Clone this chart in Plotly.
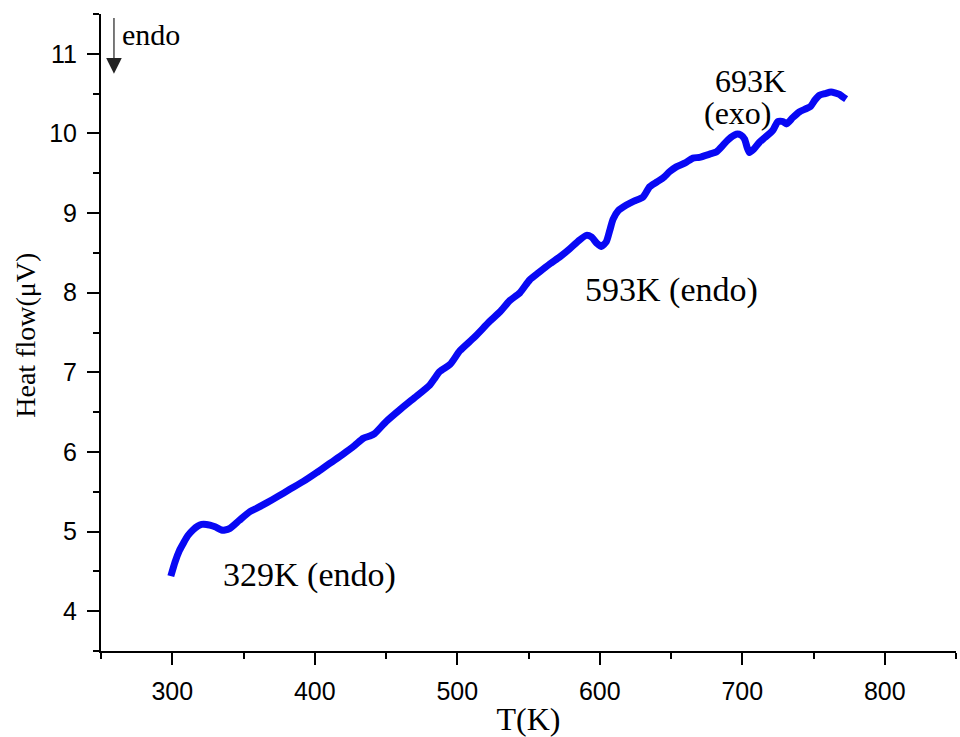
import plotly.graph_objects as go

# Data (T in K, heat flow in µV)
temp_k = [299, 302, 305, 308, 311, 314.5, 318, 320.6, 324, 326.4, 330, 334.6, 337, 340.5,
          347, 354.5, 360, 366.2, 374, 382.5, 392, 401.3, 410, 419.7, 428, 434, 438.6, 442,
          450, 459.7, 470, 480.7, 484, 487.7, 495, 501.8, 512, 522.8, 530, 536.8, 544, 550.8,
          557, 564.9, 572, 578.9, 585, 590.6, 594.1, 598, 601.1, 604.6, 607, 609.3, 613,
          618.7, 624, 630.3, 635, 640, 645, 649, 653.7, 660, 665.4, 670, 677.1, 682, 686.4,
          690, 695.8, 699, 701.6, 703.5, 705.1, 708, 712.1, 716, 721.5, 725, 728.5, 731,
          735.5, 740, 744.8, 748, 751, 754.2, 758, 762.4, 765, 768.2, 770.5, 772.9]
heat_flow = [4.44, 4.62, 4.76, 4.86, 4.95, 5.02, 5.07, 5.09, 5.09, 5.08, 5.06, 5.02, 5.02, 5.04,
             5.14, 5.25, 5.30, 5.36, 5.44, 5.53, 5.63, 5.74, 5.85, 5.97, 6.08, 6.17, 6.20, 6.23,
             6.38, 6.53, 6.68, 6.84, 6.92, 7.01, 7.10, 7.27, 7.44, 7.64, 7.76, 7.90, 8.00, 8.16,
             8.25, 8.36, 8.45, 8.55, 8.65, 8.72, 8.70, 8.62, 8.58, 8.64, 8.78, 8.92, 9.03,
             9.10, 9.15, 9.20, 9.33, 9.39, 9.45, 9.52, 9.58, 9.63, 9.69, 9.70, 9.74, 9.77, 9.85,
             9.92, 9.99, 9.98, 9.93, 9.82, 9.76, 9.80, 9.89, 9.95, 10.04, 10.15, 10.15, 10.12,
             10.20, 10.27, 10.31, 10.34, 10.42, 10.48, 10.50, 10.52, 10.51, 10.49, 10.46, 10.43]

x_ticks = [300, 400, 500, 600, 700, 800]
y_ticks = [4, 5, 6, 7, 8, 9, 10, 11]

serif = "Liberation Serif"
sans = "Liberation Sans"
tick_font = dict(family=sans, size=25, color="black")

fig = go.Figure()
fig.add_trace(go.Scatter(
    x=temp_k, y=heat_flow, mode="lines",
    line=dict(color="#0808f4", width=7, shape="spline", smoothing=0.6),
    showlegend=False, hoverinfo="skip"))

fig.update_layout(
    xaxis=dict(
        range=[250, 850], tickmode="array", tickvals=x_ticks, ticktext=[str(v) for v in x_ticks],
        showline=True, linecolor="black", linewidth=2,
        ticks="outside", ticklen=12, tickwidth=2, tickcolor="black",
        showgrid=False, zeroline=False, automargin=False,
        tickfont=tick_font, ticklabelstandoff=5,
        minor=dict(dtick=50, tick0=250, ticks="outside", ticklen=6, tickwidth=2, tickcolor="black", showgrid=False),
        title=dict(text="T(K)", font=dict(family=serif, size=32, color="black")),
    ),
    yaxis=dict(
        range=[3.5, 11.5], tickmode="array", tickvals=y_ticks, ticktext=[str(v) for v in y_ticks],
        showline=True, linecolor="black", linewidth=2,
        ticks="outside", ticklen=12, tickwidth=2, tickcolor="black",
        showgrid=False, zeroline=False, automargin=False,
        tickfont=tick_font, ticklabelstandoff=5,
        minor=dict(dtick=0.5, tick0=3.5, ticks="outside", ticklen=6, tickwidth=2, tickcolor="black", showgrid=False),
    ),
)

# y-axis title placed as a rotated annotation for exact positioning
fig.add_annotation(x=-0.0877, y=0.495, xref="paper", yref="paper", text="Heat flow(μV)",
                   textangle=-90, showarrow=False, xanchor="center", yanchor="middle",
                   font=dict(family=serif, size=28, color="black"))

ann_font = dict(family=serif, size=34, color="black")
fig.add_annotation(x=396.6, y=4.457, text="329K (endo)", showarrow=False, font=ann_font,
                   xref="x", yref="y")
fig.add_annotation(x=650.4, y=8.03, text="593K (endo)", showarrow=False, font=ann_font,
                   xref="x", yref="y")
fig.add_annotation(x=705.5, y=10.66, text="693K", showarrow=False, font=dict(family=serif, size=32, color="black"),
                   xref="x", yref="y")
fig.add_annotation(x=696.7, y=10.26, text="(exo)", showarrow=False, font=dict(family=serif, size=32, color="black"),
                   xref="x", yref="y")
fig.add_annotation(x=263.5, y=11.24, text="endo", showarrow=False, font=dict(family=serif, size=30, color="black"),
                   xref="x", yref="y", xanchor="left")
fig.add_annotation(x=259.1, y=10.75, ax=259.1, ay=11.47, axref="x", ayref="y",
                   xref="x", yref="y", text="", showarrow=True,
                   arrowhead=2, arrowsize=2.6, arrowwidth=1.2, arrowcolor="#222222")

fig.update_layout(
    width=960, height=737,
    margin=dict(l=101, r=4, t=14, b=86),
    paper_bgcolor="white", plot_bgcolor="white",
    font=dict(family=sans, size=25, color="black"),
)

fig.write_html("out.html")
